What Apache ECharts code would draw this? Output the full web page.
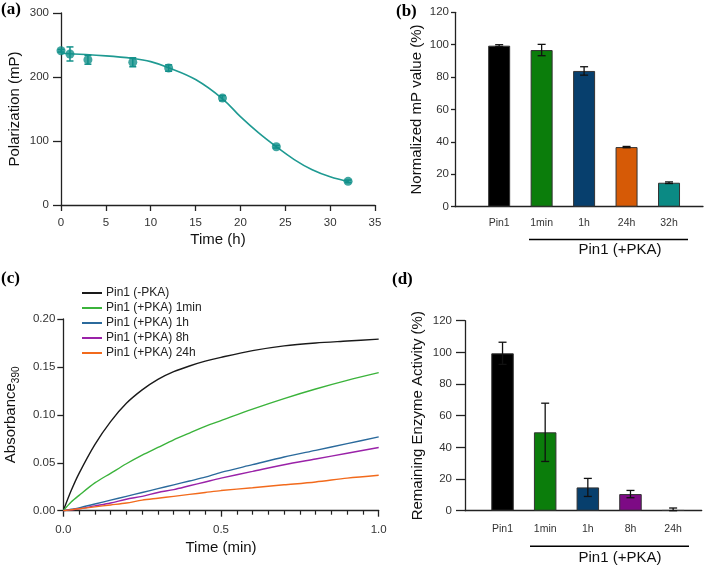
<!DOCTYPE html>
<html>
<head>
<meta charset="utf-8">
<script src="https://cdn.jsdelivr.net/npm/echarts@6/dist/echarts.min.js"></script>
<style>
html, body { margin: 0; padding: 0; background: #fff; }
#main { width: 709px; height: 567px; }
</style>
</head>
<body>
<div id="main"></div>
<script>
// (a) polarization over time
var polTime = [0, 1, 3, 8, 12, 18, 24, 32];
var polValue = [241, 236, 227, 223, 214, 167, 91, 37];
var polErr = [2, 11, 7, 7, 5, 4, 2, 2];
var fitTime = [0, 5, 8, 10, 12, 15, 18, 20, 22, 24, 26, 28, 30, 32];
var fitValue = [237, 233, 229, 224, 214.5, 196, 166, 138, 113, 91, 71, 55, 44, 36.5];

// (b) normalized mP
var mpCats = ['Pin1', '1min', '1h', '24h', '32h'];
var mpValue = [99.4, 96.7, 83.8, 36.8, 14.8];
var mpErr = [0.6, 3.5, 2.6, 0.4, 0.5];
var mpColors = ['#000000', '#0b7d0b', '#073f6d', '#d65a06', '#0b8a84'];

// (c) absorbance curves
var absTime = [0, 0.025, 0.05, 0.1, 0.15, 0.2, 0.25, 0.3, 0.35, 0.4, 0.45, 0.5, 0.6, 0.7, 0.8, 0.9, 1.0];
var absNames = ['Pin1 (-PKA)', 'Pin1 (+PKA) 1min', 'Pin1 (+PKA) 1h', 'Pin1 (+PKA) 8h', 'Pin1 (+PKA) 24h'];
var absColors = ['#1a1a1a', '#3bb33b', '#2b6a9c', '#9a22a8', '#f26a1c'];
var absBlack = [0, 0.021, 0.039, 0.069, 0.093, 0.112, 0.126, 0.137, 0.145, 0.151, 0.156, 0.160, 0.167, 0.172, 0.175, 0.177, 0.179];
var absGreen = [0, 0.009, 0.016, 0.029, 0.039, 0.049, 0.058, 0.066, 0.074, 0.081, 0.088, 0.094, 0.106, 0.117, 0.127, 0.136, 0.144];
var absBlue = [0, 0.0015, 0.003, 0.007, 0.011, 0.015, 0.019, 0.023, 0.027, 0.031, 0.035, 0.040, 0.048, 0.056, 0.063, 0.070, 0.077];
var absPurple = [0, 0.001, 0.002, 0.005, 0.008, 0.012, 0.015, 0.019, 0.022, 0.026, 0.030, 0.034, 0.041, 0.048, 0.054, 0.060, 0.066];
var absOrange = [0, 0.001, 0.002, 0.004, 0.006, 0.008, 0.011, 0.013, 0.015, 0.017, 0.019, 0.021, 0.024, 0.027, 0.030, 0.034, 0.037];
var absSeries = [absBlack, absGreen, absBlue, absPurple, absOrange];

// (d) remaining enzyme activity
var actCats = ['Pin1', '1min', '1h', '8h', '24h'];
var actValue = [99.4, 49.5, 14.7, 10.5, 0.3];
var actErr = [7, 18.4, 5.7, 2.3, 1.4];
var actColors = ['#000000', '#0b7d0b', '#073f6d', '#7d0a85', '#ffffff'];

var FONT = '"Liberation Sans", Arial, sans-serif';
var AXIS_COLOR = '#222';

function zip(xs, ys) {
    return xs.map(function (x, i) { return [x, ys[i]]; });
}

// error bar drawn with a custom series: value = [x, y, err]
function errorBar(color, capW, lw) {
    return function (params, api) {
        var x = api.value(0), y = api.value(1), e = api.value(2);
        var top = api.coord([x, y + e]);
        var bot = api.coord([x, Math.max(0, y - e)]);
        var st = { stroke: color, lineWidth: lw };
        return {
            type: 'group',
            children: [
                { type: 'line', shape: { x1: top[0], y1: top[1], x2: bot[0], y2: bot[1] }, style: st },
                { type: 'line', shape: { x1: top[0] - capW, y1: top[1], x2: top[0] + capW, y2: top[1] }, style: st },
                { type: 'line', shape: { x1: bot[0] - capW, y1: bot[1], x2: bot[0] + capW, y2: bot[1] }, style: st }
            ]
        };
    };
}

function axisLine() {
    return { onZero: false, lineStyle: { color: AXIS_COLOR, width: 1.3 } };
}
function tick(len) {
    return { show: true, length: len, lineStyle: { color: AXIS_COLOR, width: 1.3 } };
}
function label(margin, extra) {
    var o = { color: '#333', fontSize: 11.5, fontFamily: FONT, margin: margin };
    for (var k in extra) o[k] = extra[k];
    return o;
}
var nameStyle = { color: '#111', fontSize: 15, fontFamily: FONT };

var myChart = echarts.init(document.getElementById('main'));

var option = {
    animation: false,
    backgroundColor: '#fff',
    grid: [
        { left: 61, top: 13, width: 314, height: 192 },
        { left: 455, top: 12.3, width: 248, height: 194.4 },
        { left: 63.3, top: 319, width: 315.4, height: 191.7 },
        { left: 465, top: 320.7, width: 236.7, height: 190 }
    ],
    xAxis: [
        {
            gridIndex: 0, type: 'value', min: 0, max: 35, interval: 5,
            name: 'Time (h)', nameLocation: 'middle', nameGap: 27, nameTextStyle: nameStyle,
            axisLine: axisLine(), axisTick: tick(6), axisLabel: label(12), splitLine: { show: false }
        },
        {
            gridIndex: 1, type: 'value', min: -0.04, max: 5.8,
            axisLine: axisLine(), axisTick: { show: false }, splitLine: { show: false },
            axisLabel: label(11, {
                fontSize: 10.5, customValues: [1, 2, 3, 4, 5],
                formatter: function (v) { return mpCats[Math.round(v) - 1] || ''; }
            })
        },
        {
            gridIndex: 2, type: 'value', min: 0, max: 1, interval: 0.5,
            name: 'Time (min)', nameLocation: 'middle', nameGap: 30, nameTextStyle: nameStyle,
            axisLine: axisLine(), axisTick: tick(6),
            minorTick: { show: true, splitNumber: 10, length: 4, lineStyle: { color: AXIS_COLOR, width: 1.2 } },
            axisLabel: label(13, { formatter: function (v) { return v.toFixed(1); } }),
            splitLine: { show: false }
        },
        {
            gridIndex: 3, type: 'value', min: 0.12, max: 5.67,
            axisLine: axisLine(), axisTick: { show: false }, splitLine: { show: false },
            axisLabel: label(13, {
                fontSize: 10.5, customValues: [1, 2, 3, 4, 5],
                formatter: function (v) { return actCats[Math.round(v) - 1] || ''; }
            })
        }
    ],
    yAxis: [
        {
            gridIndex: 0, type: 'value', min: 0, max: 300, interval: 100,
            name: 'Polarization (mP)', nameLocation: 'middle', nameGap: 39, nameTextStyle: nameStyle,
            axisLine: axisLine(), axisTick: tick(8), axisLabel: label(12), splitLine: { show: false }
        },
        {
            gridIndex: 1, type: 'value', min: 0, max: 120, interval: 20,
            name: 'Normalized mP value (%)', nameLocation: 'middle', nameGap: 31, nameTextStyle: nameStyle,
            axisLine: axisLine(), axisTick: tick(4), axisLabel: label(6), splitLine: { show: false }
        },
        {
            gridIndex: 2, type: 'value', min: 0, max: 0.2, interval: 0.05,
            name: '{a|Absorbance}{s|390}', nameLocation: 'middle', nameGap: 42,
            nameTextStyle: {
                color: '#111', fontFamily: FONT,
                rich: {
                    a: { fontSize: 15, fontFamily: FONT, color: '#111', lineHeight: 20, verticalAlign: 'middle' },
                    s: { fontSize: 10, fontFamily: FONT, color: '#111', lineHeight: 10, verticalAlign: 'bottom' }
                }
            },
            axisLine: axisLine(), axisTick: tick(6),
            axisLabel: label(8, { formatter: function (v) { return v.toFixed(2); } }),
            splitLine: { show: false }
        },
        {
            gridIndex: 3, type: 'value', min: 0, max: 120, interval: 20,
            name: 'Remaining Enzyme Activity (%)', nameLocation: 'middle', nameGap: 40, nameTextStyle: nameStyle,
            axisLine: axisLine(), axisTick: tick(9), axisLabel: label(13), splitLine: { show: false }
        }
    ],
    legend: {
        data: absNames,
        orient: 'vertical',
        left: 77, top: 282,
        icon: 'rect', itemWidth: 20, itemHeight: 2, itemGap: 3,
        textStyle: { fontSize: 12, fontFamily: FONT, color: '#222', lineHeight: 12, padding: [0, 0, 0, -1] },
        selectedMode: false
    },
    graphic: [
        { type: 'text', left: 1, top: 1, style: { text: '(a)', font: 'bold 17px "Liberation Serif", serif', fill: '#000' } },
        { type: 'text', left: 396, top: 3, style: { text: '(b)', font: 'bold 17px "Liberation Serif", serif', fill: '#000' } },
        { type: 'text', left: 1, top: 270, style: { text: '(c)', font: 'bold 17px "Liberation Serif", serif', fill: '#000' } },
        { type: 'text', left: 392, top: 271, style: { text: '(d)', font: 'bold 17px "Liberation Serif", serif', fill: '#000' } },
        { type: 'line', shape: { x1: 529, y1: 239.5, x2: 688, y2: 239.5 }, style: { stroke: '#000', lineWidth: 1.4 } },
        { type: 'text', x: 620, y: 250, style: { text: 'Pin1 (+PKA)', font: '15px "Liberation Sans", Arial', fill: '#111', align: 'center', verticalAlign: 'middle' } },
        { type: 'line', shape: { x1: 530, y1: 546.3, x2: 689, y2: 546.3 }, style: { stroke: '#000', lineWidth: 1.4 } },
        { type: 'text', x: 620, y: 557.5, style: { text: 'Pin1 (+PKA)', font: '15px "Liberation Sans", Arial', fill: '#111', align: 'center', verticalAlign: 'middle' } }
    ],
    series: []
};

// (a) fit line, error bars and points
option.series.push({
    type: 'line', xAxisIndex: 0, yAxisIndex: 0, data: zip(fitTime, fitValue),
    smooth: 0.4, showSymbol: false, lineStyle: { color: '#1f9a92', width: 1.6 }, z: 2
});
option.series.push({
    type: 'custom', xAxisIndex: 0, yAxisIndex: 0,
    data: polTime.map(function (t, i) { return [t, polValue[i], polErr[i]]; }),
    renderItem: errorBar('#12908a', 3.5, 1.5), z: 3
});
option.series.push({
    type: 'scatter', xAxisIndex: 0, yAxisIndex: 0, data: zip(polTime, polValue),
    symbolSize: 9, itemStyle: { color: '#12908a' }, z: 4
});

// (b) bars + error bars
option.series.push({
    type: 'bar', xAxisIndex: 1, yAxisIndex: 1, barWidth: 22,
    data: mpValue.map(function (v, i) {
        return { value: [i + 1, v], itemStyle: { color: mpColors[i], borderColor: '#333', borderWidth: 1 } };
    })
});
option.series.push({
    type: 'custom', xAxisIndex: 1, yAxisIndex: 1,
    data: mpValue.map(function (v, i) { return [i + 1, v, mpErr[i]]; }),
    renderItem: errorBar('#111', 4, 1.3), z: 5
});

// (c) absorbance curves
absSeries.forEach(function (vals, i) {
    option.series.push({
        type: 'line', name: absNames[i], xAxisIndex: 2, yAxisIndex: 2,
        data: zip(absTime, vals), smooth: 0.3, showSymbol: false,
        itemStyle: { color: absColors[i] },
        lineStyle: { color: absColors[i], width: 1.4 }
    });
});

// (d) bars + error bars
option.series.push({
    type: 'bar', xAxisIndex: 3, yAxisIndex: 3, barWidth: 22.5,
    data: actValue.map(function (v, i) {
        return { value: [i + 1, v], itemStyle: { color: actColors[i], borderColor: '#333', borderWidth: 1 } };
    })
});
option.series.push({
    type: 'custom', xAxisIndex: 3, yAxisIndex: 3,
    data: actValue.map(function (v, i) { return [i + 1, v, actErr[i]]; }),
    renderItem: errorBar('#111', 4, 1.3), z: 5
});

myChart.setOption(option);
</script>
</body>
</html>
